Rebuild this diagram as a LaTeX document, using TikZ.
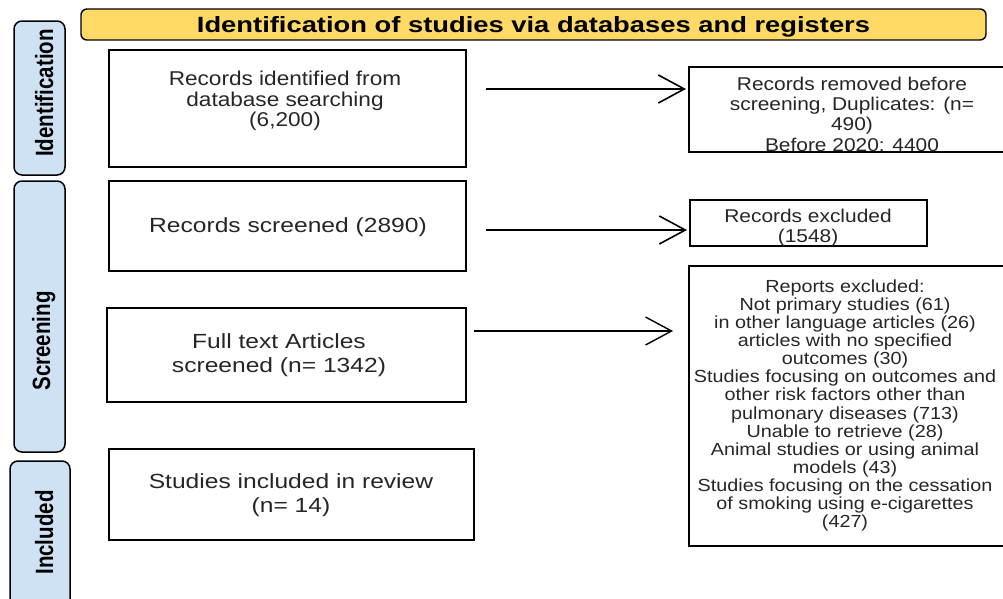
\documentclass[tikz,border=0pt]{standalone}
\usepackage{graphicx}
\usepackage{fontspec}
\setmainfont{Liberation Sans}[FakeStretch=1.13]
\newfontfamily\widefont{Liberation Sans}[FakeStretch=1.2]
\newfontfamily\sidefont{Liberation Sans}[FakeStretch=0.82]
\usetikzlibrary{arrows.meta}
\definecolor{hdr}{HTML}{FFD966}
\definecolor{sidebg}{HTML}{CFE2F3}
\begin{document}
\begin{tikzpicture}[x=1pt,y=-1pt,
  box/.style={draw=black, line width=1.6pt, inner sep=0pt, outer sep=0pt},
  rbox/.style={draw=black, line width=1.4pt, inner sep=0pt, outer sep=0pt},
  sidebox/.style={draw=black, fill=sidebg, line width=1.5pt, rounded corners=8pt, inner sep=0pt},
  sidetxt/.style={rotate=90, anchor=base, inner sep=0pt, font=\sidefont\bfseries\fontsize{25}{25}\selectfont},
  bigtxt/.style={align=center, inner sep=0pt, text=black!85, font=\fontsize{20}{20.5}\selectfont},
  widetxt/.style={align=center, inner sep=0pt, text=black!85, font=\widefont\fontsize{20.5}{23.5}\selectfont},
  midtxt/.style={align=center, inner sep=0pt, text=black!85, font=\fontsize{18.5}{20.3}\selectfont},
  smalltxt/.style={align=center, inner sep=0pt, text=black!85, font=\fontsize{17.5}{18.1}\selectfont},
  arr/.style={line width=1.6pt, -{Straight Barb[length=26pt,width=28pt]}}]
\useasboundingbox (0,0) rectangle (1003,598);
% header
\node[draw=black, fill=hdr, line width=1.4pt, rounded corners=6pt, minimum width=905, minimum height=31, inner sep=0pt] (hdr) at (533.5,24.5) {};
\node[anchor=base, inner sep=0pt] (hdrtxt) at (533.5,32) {\resizebox{673pt}{16pt}{\bfseries Identification of studies via databases and registers}};
% side labels
\node[sidebox, minimum width=51, minimum height=154] (sid) at (39.5,98) {};
\node[sidetxt] (sidt) at (53,93) {Identification};
\node[sidebox, minimum width=51, minimum height=271] (sscr) at (39.5,316.5) {};
\node[sidetxt] (sscrt) at (50,341) {Screening};
\node[sidebox, minimum width=60, minimum height=150] (sinc) at (40,536) {};
\node[sidetxt] (sinct) at (53,532.5) {Included};
% left boxes
\node[box, minimum width=357, minimum height=117] (b1) at (287.5,108.5) {};
\node[bigtxt] (b1t) at (285,101) {Records identified from\\database searching\\(6,200)};
\node[box, minimum width=357, minimum height=90] (b2) at (287.5,226) {};
\node[widetxt] (b2t) at (288,227) {Records screened (2890)};
\node[box, minimum width=359, minimum height=94] (b3) at (286.5,355) {};
\node[widetxt] (b3t) at (279,355) {Full text Articles\\screened (n= 1342)};
\node[box, minimum width=365, minimum height=91] (b4) at (291.5,494.5) {};
\node[widetxt] (b4t) at (291,495) {Studies included in review\\(n= 14)};
% right boxes
\node[rbox, minimum width=317, minimum height=85] (r1) at (847.5,109.5) {};
\node[midtxt] (r1t) at (852,114) {Records removed before\\screening, Duplicates: (n=\\490)\\Before 2020: 4400};
\node[rbox, minimum width=237, minimum height=46] (r2) at (808.5,223) {};
\node[midtxt] (r2t) at (808,227.5) {Records excluded\\(1548)};
\node[rbox, minimum width=317, minimum height=280] (r3) at (847.5,406) {};
\node[smalltxt] (r3t) at (845,405.5) {Reports excluded:\\Not primary studies (61)\\in other language articles (26)\\articles with no specified\\outcomes (30)\\Studies focusing on outcomes and\\other risk factors other than\\pulmonary diseases (713)\\Unable to retrieve (28)\\Animal studies or using animal\\models (43)\\Studies focusing on the cessation\\of smoking using e-cigarettes\\(427)};
% arrows
\coordinate (a1) at (486,89);
\coordinate (a2) at (486,230);
\coordinate (a3) at (474,331);
\draw[arr, shorten >=3pt] (a1) -- (a1 -| r1.west);
\draw[arr, shorten >=3pt] (a2) -- (a2 -| r2.west);
\draw[arr, line width=1.4pt, shorten >=16pt] (a3) -- (a3 -| r3.west);
\end{tikzpicture}
\end{document}
